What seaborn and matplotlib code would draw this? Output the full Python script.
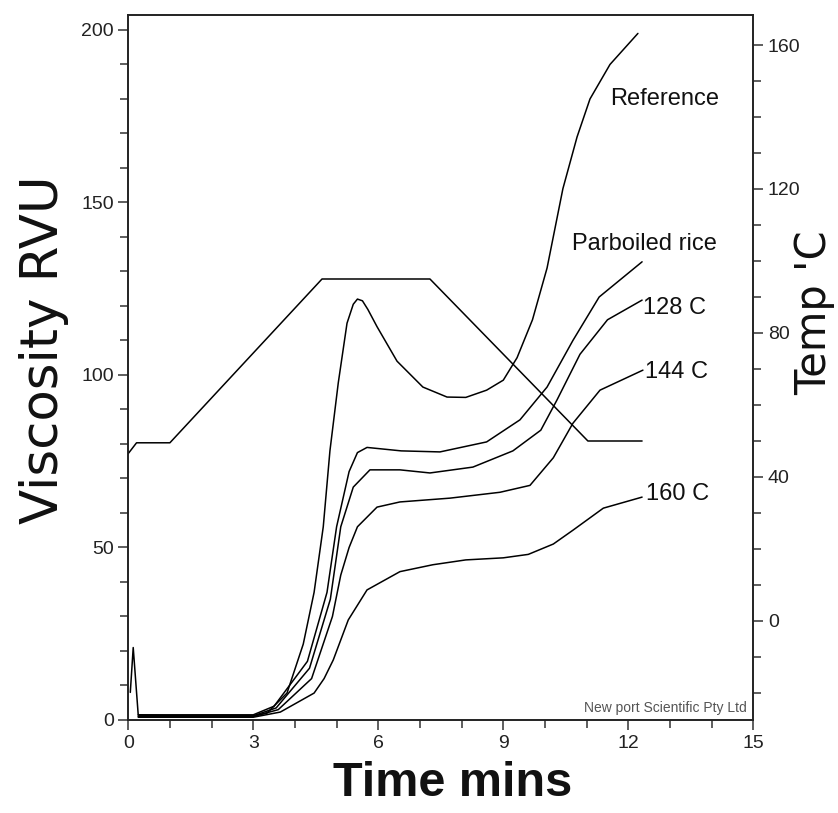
import numpy as np
import matplotlib
matplotlib.use("Agg")
import matplotlib.pyplot as plt
import seaborn as sns
import pandas as pd
from matplotlib.ticker import MultipleLocator

# viscosity traces (time in min, viscosity in RVU)
time_ref = [0.05, 0.12, 0.24, 1.0, 2.0, 3.0, 3.33, 3.81, 4.2, 4.46, 4.68, 4.84, 5.04, 5.25, 5.4, 5.5,
            5.62, 5.75, 5.97, 6.45, 7.07, 7.65, 8.1, 8.6, 9.0, 9.33, 9.7, 10.05, 10.43, 10.77, 11.08, 11.56, 12.23]
visc_ref = [8, 21, 1.5, 1.2, 1.0, 1.2, 2, 7.8, 22, 37, 56, 78, 97.7, 115, 120.5, 122,
            121.5, 119, 114, 104, 96.5, 93.6, 93.5, 95.6, 98.5, 105, 116, 131, 154, 169, 180, 190, 199]

time_parb = [0.24, 3.0, 3.5, 4.3, 4.77, 5.0, 5.3, 5.5, 5.73, 6.55, 7.48, 8.6, 9.4, 10.05, 10.67, 11.3, 12.33]
visc_parb = [1.5, 1.5, 4, 17, 37, 56, 72, 77.5, 79, 78, 77.7, 80.6, 87, 96.5, 110, 122.6, 132.8]

time_128 = [0.24, 3.0, 3.55, 4.35, 4.85, 5.1, 5.4, 5.8, 6.52, 7.24, 8.27, 9.23, 9.9, 10.29, 10.84, 11.5, 12.33]
visc_128 = [1.2, 1.2, 3.5, 15, 35, 56, 67.5, 72.5, 72.5, 71.6, 73.3, 78, 84, 92.8, 106, 116, 121.7]

time_144 = [0.24, 3.0, 3.6, 4.4, 4.9, 5.1, 5.3, 5.5, 5.97, 6.52, 7.72, 8.92, 9.64, 10.2, 10.67, 11.32, 12.35]
visc_144 = [1.0, 1.0, 3, 12, 30, 42, 50, 56, 61.7, 63.2, 64.3, 66, 68, 76, 86, 95.6, 101.4]

time_160 = [0.24, 3.0, 3.65, 4.46, 4.7, 4.92, 5.28, 5.73, 6.52, 7.31, 8.1, 9.0, 9.6, 10.2, 10.67, 11.4, 12.33]
visc_160 = [0.8, 0.8, 2.3, 7.8, 12, 17.4, 29, 37.7, 43, 45, 46.4, 47, 48, 51, 55, 61.4, 64.6]

# temperature profile (right axis)
time_temp = [0.0, 0.2, 1.0, 4.65, 7.24, 11.03, 12.33]
temp_c = [46.5, 49.5, 49.5, 95, 95, 50, 50]

curve_labels = ["Reference", "Parboiled rice", "128 C", "144 C", "160 C"]
label_pos = [(11.56, 180), (10.65, 138), (12.36, 119.5), (12.4, 101), (12.42, 65.5)]

sns.set_style("ticks")
plt.rcParams["font.family"] = ["Liberation Sans", "DejaVu Sans"]

fig = plt.figure(figsize=(8.38, 8.13), dpi=100)
ax = fig.add_axes([0.153, 0.1144, 0.746, 0.867])

curves = [(time_ref, visc_ref), (time_parb, visc_parb), (time_128, visc_128),
          (time_144, visc_144), (time_160, visc_160)]
for (t, v) in curves:
    df = pd.DataFrame({"t": t, "v": v})
    sns.lineplot(data=df, x="t", y="v", ax=ax, color="black", lw=1.1, estimator=None, sort=False)

for name, (x, y) in zip(curve_labels, label_pos):
    ax.text(x, y, name, fontsize=17, ha="left", va="center", color="#111")

ax.set_xlim(0, 15)
ax.set_ylim(0, 204.3)
ax.xaxis.set_major_locator(MultipleLocator(3))
ax.xaxis.set_minor_locator(MultipleLocator(1))
ax.yaxis.set_major_locator(MultipleLocator(50))
ax.yaxis.set_minor_locator(MultipleLocator(10))
ax.set_xlabel("")
ax.set_ylabel("")
ax.tick_params(which="both", direction="out", labelsize=14, labelcolor="#222", width=1.1, color="#333")
ax.tick_params(which="major", length=7)
ax.tick_params(which="minor", length=6)

ax2 = ax.twinx()
df_temp = pd.DataFrame({"t": time_temp, "T": temp_c})
sns.lineplot(data=df_temp, x="t", y="T", ax=ax2, color="black", lw=1.1, estimator=None, sort=False)
ax2.set_ylim(-27.5, 168.3)
ax2.yaxis.set_major_locator(MultipleLocator(40))
ax2.yaxis.set_minor_locator(MultipleLocator(10))
ax2.set_ylabel("")
ax2.tick_params(which="both", direction="out", labelsize=14, labelcolor="#222", width=1.1, color="#333")
ax2.tick_params(which="major", length=7)
ax2.tick_params(which="minor", length=6)

for a in (ax, ax2):
    for s in a.spines.values():
        s.set_color("#222")
        s.set_linewidth(1.2)

ax.text(14.85, 1.5, "New port Scientific Pty Ltd", fontsize=10, color="#555", ha="right", va="bottom")

fig.text(0.052, 0.57, "Viscosity RVU", rotation=90, fontsize=37, family="DejaVu Sans",
         ha="center", va="center", color="#111")
fig.text(0.971, 0.615, "Temp 'C", rotation=90, fontsize=30, family="DejaVu Sans",
         ha="center", va="center", color="#111")
fig.text(0.54, 0.036, "Time mins", fontsize=35, fontweight="bold", ha="center", va="center", color="#111")

fig.savefig("out.png", dpi=100)
